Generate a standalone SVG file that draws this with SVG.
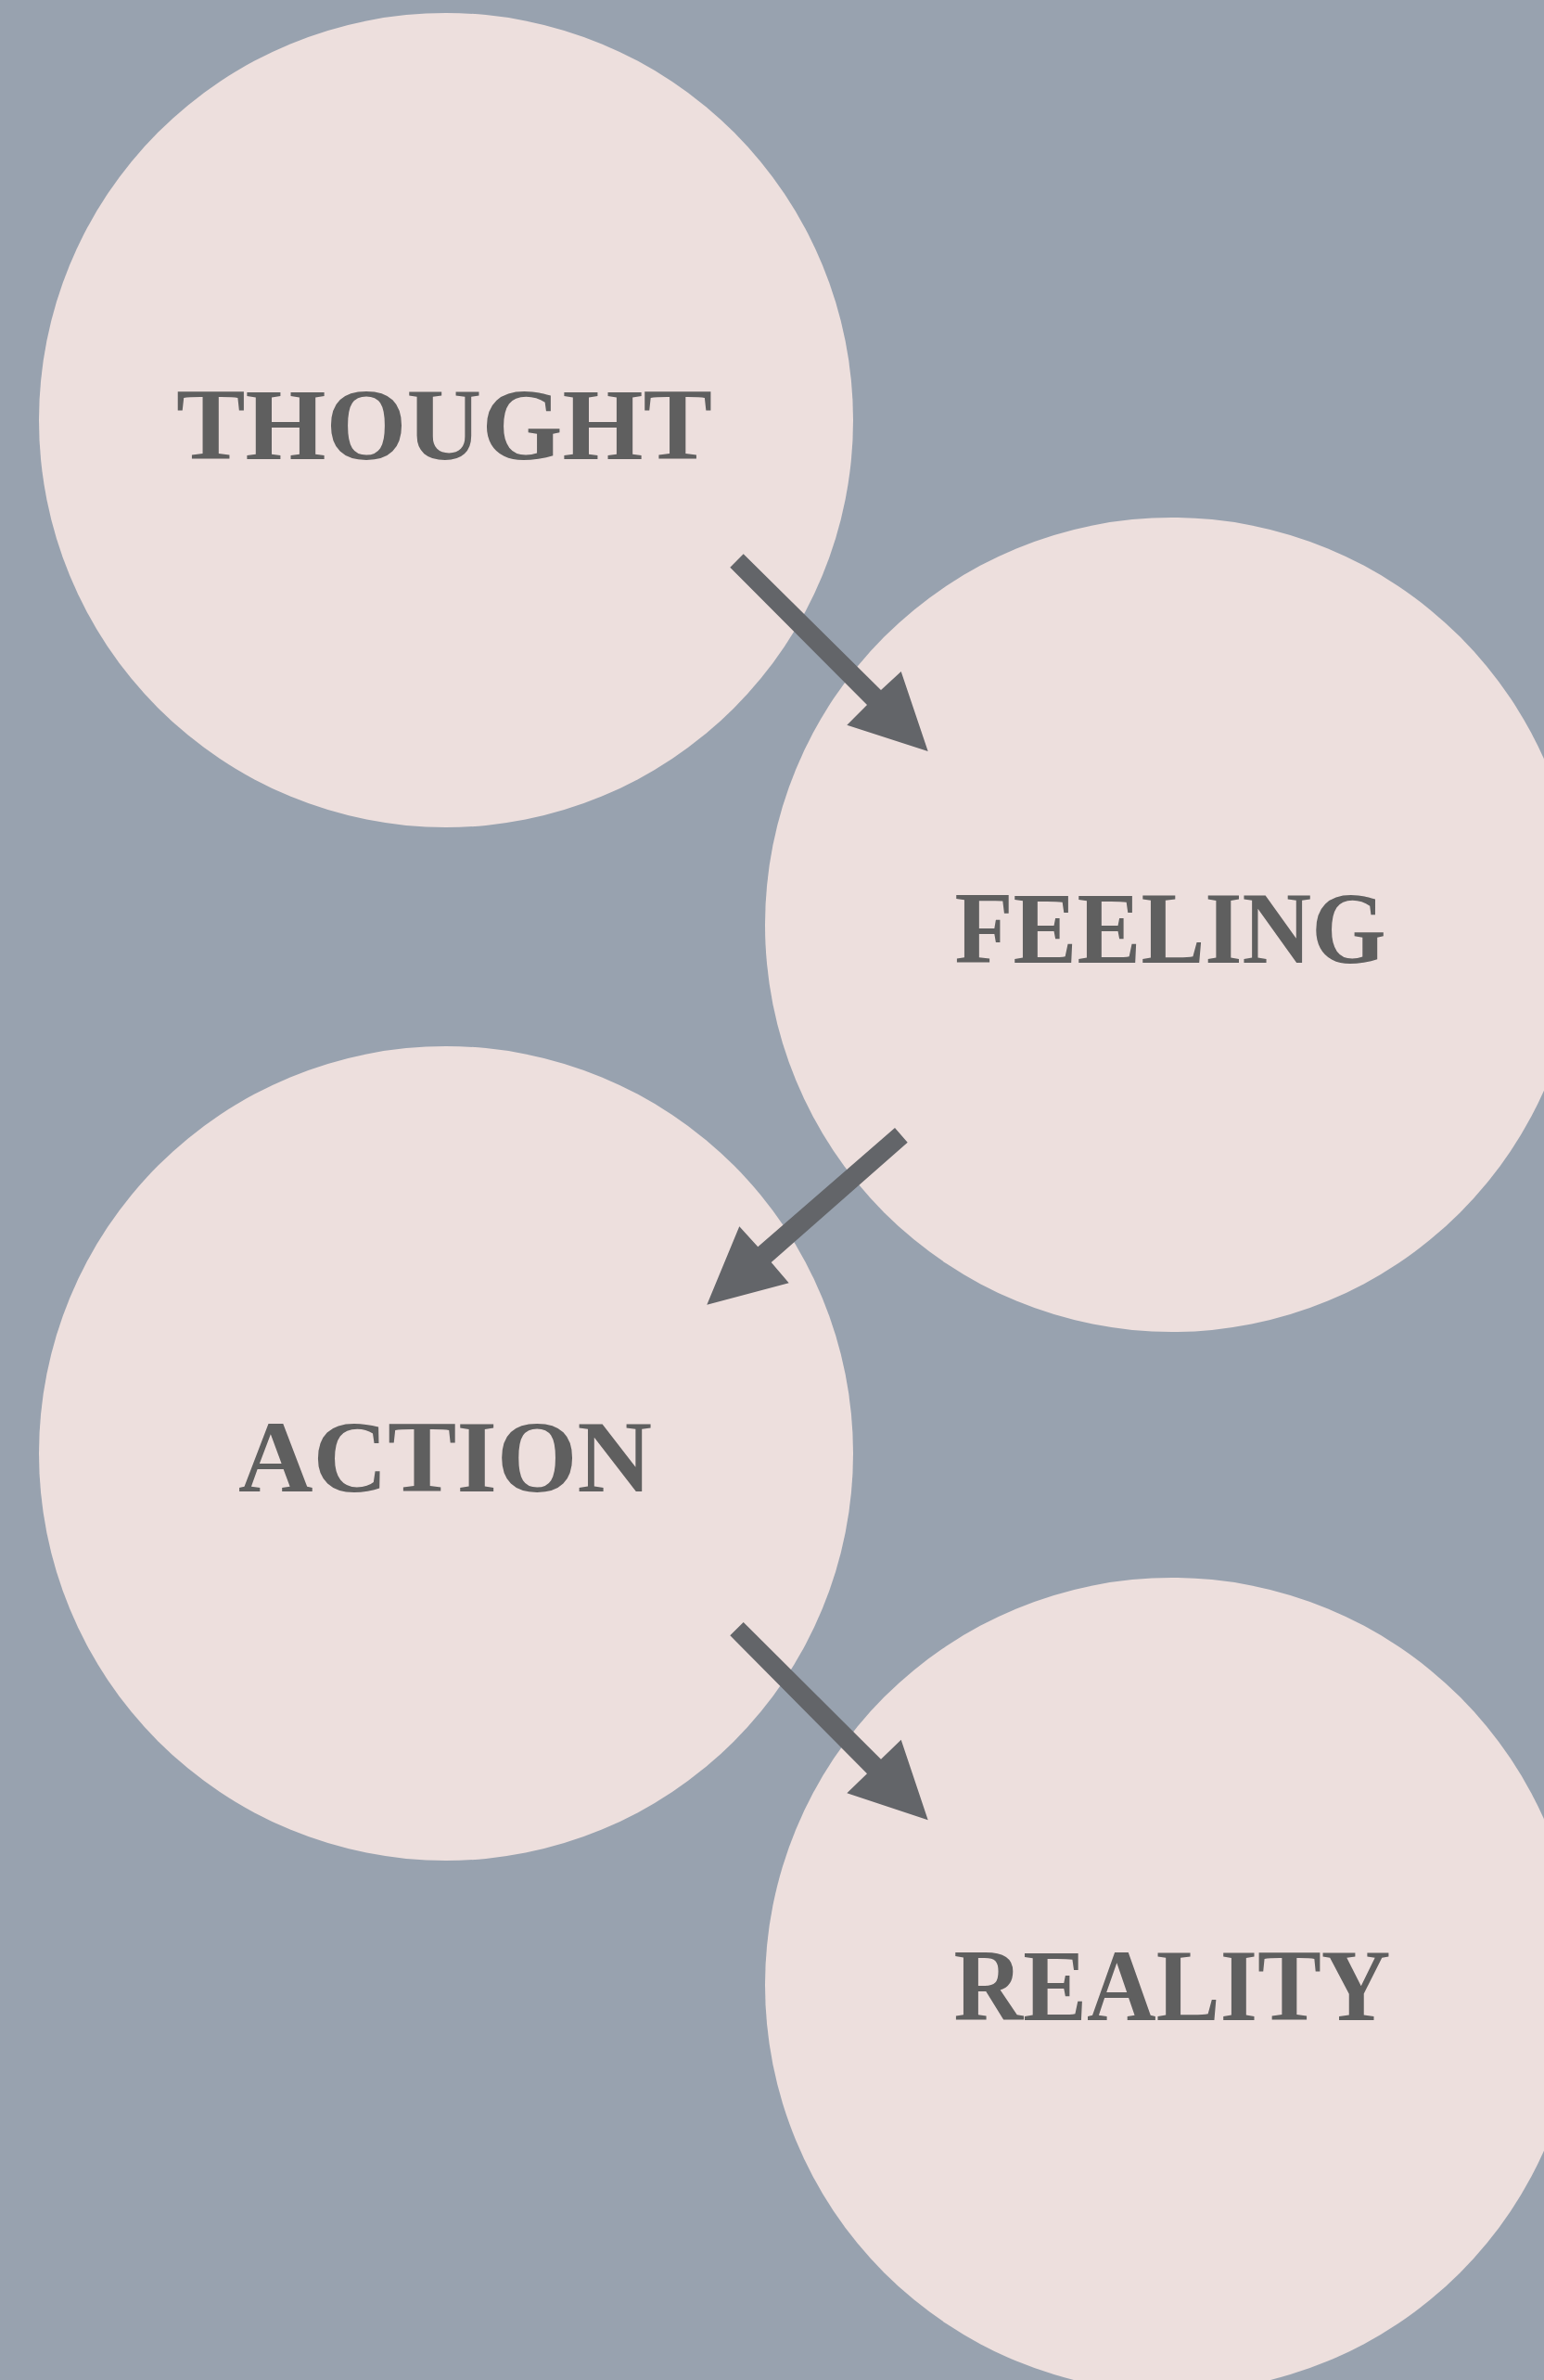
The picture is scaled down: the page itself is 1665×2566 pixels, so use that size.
<svg xmlns="http://www.w3.org/2000/svg" width="1665" height="2566" viewBox="0 0 1665 2566">
<style>
.node circle{fill:#EDDFDD}
.node text{font-family:"Liberation Serif","DejaVu Serif",serif;font-weight:bold;font-size:110px;fill:#5F5F5F;text-anchor:middle}
.arrow{fill:#636569}
</style>
<rect width="1665" height="2566" fill="#98A2AF"/>
<g id="thought" class="node"><circle cx="481" cy="453" r="439"/><text x="479" y="495" textLength="578" lengthAdjust="spacingAndGlyphs">THOUGHT</text></g>
<g id="feeling" class="node"><circle cx="1264" cy="997" r="439"/><text x="1262" y="1038" textLength="465" lengthAdjust="spacingAndGlyphs">FEELING</text></g>
<g id="action" class="node"><circle cx="481" cy="1567" r="439"/><text x="480" y="1608" textLength="446" lengthAdjust="spacingAndGlyphs">ACTION</text></g>
<g id="reality" class="node"><circle cx="1264" cy="2140" r="439"/><text x="1264" y="2178" textLength="471" lengthAdjust="spacingAndGlyphs">REALITY</text></g>
<g id="connectors">
<polygon class="arrow" points="787.3,611.7 801.7,597.3 950,744 971.7,724 1000.7,810 913.3,781.7 935,760"/>
<polygon class="arrow" points="965,1216 978.7,1231.7 831.7,1361 850.7,1383.3 762.3,1406.7 797.3,1322.3 817.3,1344.3"/>
<polygon class="arrow" points="787.3,1763.3 801.7,1749 950,1896.7 971.7,1875.7 1000.7,1962.3 913.3,1933.3 935,1912.3"/>
</g>
</svg>
